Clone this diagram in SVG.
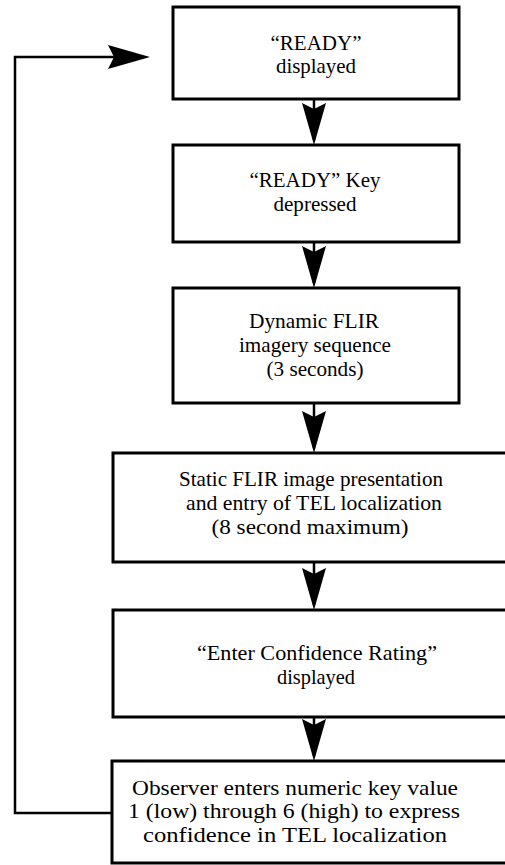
<svg xmlns="http://www.w3.org/2000/svg" width="505" height="865" viewBox="0 0 505 865">
<style>
.box{fill:#fff;stroke:#000;stroke-width:3}
.ln{fill:none;stroke:#000;stroke-width:2.5}
.ah{fill:#000;stroke:none}
text{font-family:"Liberation Serif","Times New Roman",serif;font-size:21px;fill:#000;text-anchor:middle}
</style>
<defs>
<path id="down" d="M0,0 L-12,-42 L0,-36 L12,-42 Z"/>
</defs>
<rect x="0" y="0" width="505" height="865" fill="#fff"/>
<g id="connectors">
<line class="ln" x1="314" y1="99" x2="314" y2="140"/>
<use href="#down" class="ah" x="314" y="145"/>
<line class="ln" x1="314" y1="242" x2="314" y2="283"/>
<use href="#down" class="ah" x="314" y="288"/>
<line class="ln" x1="314" y1="403" x2="314" y2="448"/>
<use href="#down" class="ah" x="314" y="453"/>
<line class="ln" x1="314" y1="562" x2="314" y2="605"/>
<use href="#down" class="ah" x="314" y="610"/>
<line class="ln" x1="314" y1="717" x2="314" y2="756"/>
<use href="#down" class="ah" x="314" y="761"/>
<polyline class="ln" points="112,813 15,813 15,57 140,57"/>
<path class="ah" d="M150,57 L108,45 L114,57 L108,69 Z"/>
</g>
<g id="n1">
<rect class="box" x="173" y="7" width="286" height="92"/>
<text x="316" y="50">“READY”</text>
<text x="316" y="73" textLength="80" lengthAdjust="spacingAndGlyphs">displayed</text>
</g>
<g id="n2">
<rect class="box" x="173" y="145" width="286" height="97"/>
<text x="315" y="187" textLength="131" lengthAdjust="spacingAndGlyphs">“READY” Key</text>
<text x="315" y="211" textLength="83" lengthAdjust="spacingAndGlyphs">depressed</text>
</g>
<g id="n3">
<rect class="box" x="173" y="288" width="286" height="115"/>
<text x="314" y="328" textLength="130" lengthAdjust="spacingAndGlyphs">Dynamic FLIR</text>
<text x="315" y="352" textLength="152" lengthAdjust="spacingAndGlyphs">imagery sequence</text>
<text x="315" y="376" textLength="97" lengthAdjust="spacingAndGlyphs">(3 seconds)</text>
</g>
<g id="n4">
<rect class="box" x="113" y="453" width="410" height="109"/>
<text x="311" y="486" textLength="264" lengthAdjust="spacingAndGlyphs">Static FLIR image presentation</text>
<text x="314" y="510" textLength="256" lengthAdjust="spacingAndGlyphs">and entry of TEL localization</text>
<text x="310" y="534" textLength="197" lengthAdjust="spacingAndGlyphs">(8 second maximum)</text>
</g>
<g id="n5">
<rect class="box" x="113" y="610" width="410" height="107"/>
<text x="317" y="660" textLength="240" lengthAdjust="spacingAndGlyphs">“Enter Confidence Rating”</text>
<text x="316" y="684" textLength="78" lengthAdjust="spacingAndGlyphs">displayed</text>
</g>
<g id="n6">
<rect class="box" x="112" y="761" width="411" height="102"/>
<text x="295" y="795" textLength="326" lengthAdjust="spacingAndGlyphs">Observer enters numeric key value</text>
<text x="294" y="818" textLength="332" lengthAdjust="spacingAndGlyphs">1 (low) through 6 (high) to express</text>
<text x="295" y="842" textLength="304" lengthAdjust="spacingAndGlyphs">confidence in TEL localization</text>
</g>
</svg>
